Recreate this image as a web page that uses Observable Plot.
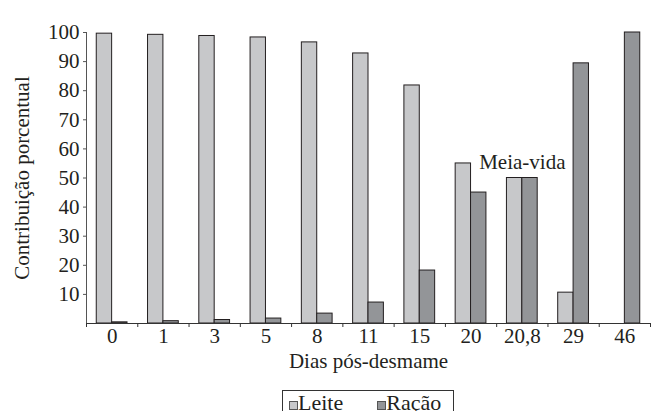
<!DOCTYPE html>
<html>
<head>
<meta charset="utf-8">
<script src="https://cdn.jsdelivr.net/npm/d3@7"></script>
<script src="https://cdn.jsdelivr.net/npm/@observablehq/plot@0.6"></script>
<style>
  body { margin: 0; background: #fff; font-family: "Liberation Serif", "Times New Roman", serif; color: #231f20; }
  #chart svg { display: block; }
  #legend { margin-left: 282px; width: 172px; height: 40px; border: 1px solid #333; box-sizing: border-box;
            font-size: 22px; line-height: 22px; padding-top: 1px; white-space: nowrap; }
  .item { display: inline-block; }
  .sw { display: inline-block; width: 7px; height: 7px; border: 1px solid #555; margin-right: 0px; vertical-align: 0px; }
</style>
</head>
<body>
<div id="chart"></div>
<div id="legend"></div>
<script>
const dias = ["0", "1", "3", "5", "8", "11", "15", "20", "20,8", "29", "46"];
const leite = [99.6, 99.2, 98.8, 98.3, 96.6, 92.8, 81.8, 55, 50, 10.6, 0];
const racao = [0.4, 0.8, 1.2, 1.7, 3.4, 7.2, 18.2, 45, 50, 89.4, 100];
const series = ["Leite", "Ração"];
const colors = ["#c7c8ca", "#939598"];
const yTicks = [10, 20, 30, 40, 50, 60, 70, 80, 90, 100];
const notas = [{dia: "20,8", texto: "Meia-vida"}];

const rows = dias.flatMap((d, i) => [
  {i, dia: d, serie: "Leite", v: leite[i]},
  {i, dia: d, serie: "Ração", v: racao[i]}
]).filter(d => d.v > 0);

const notaRows = notas.map(n => ({x: dias.indexOf(n.dia) + 0.5, y: leite[dias.indexOf(n.dia)], texto: n.texto}));

const chart = Plot.plot({
  width: 653,
  height: 390,
  marginTop: 32,
  marginBottom: 67,
  marginLeft: 86,
  marginRight: 3,
  style: {fontFamily: "'Liberation Serif', 'Times New Roman', serif", fontSize: "21px", color: "#231f20", background: "#fff"},
  x: {domain: [0, dias.length]},
  y: {domain: [0, 100]},
  color: {domain: series, range: colors},
  marks: [
    Plot.rectY(rows, {
      x1: d => d.i + (d.serie === "Leite" ? 0.2 : 0.5),
      x2: d => d.i + (d.serie === "Leite" ? 0.5 : 0.8),
      y: "v",
      fill: "serie",
      stroke: "#231f20",
      strokeWidth: 1
    }),
    Plot.ruleX([0], {y1: 0, y2: 100, stroke: "#555", strokeWidth: 1}),
    Plot.ruleY([0], {x1: 0, x2: dias.length, stroke: "#333", strokeWidth: 1}),
    Plot.axisY({ticks: yTicks, tickSize: 3, tickPadding: 4, label: "Contribuição porcentual",
                labelAnchor: "center", labelArrow: "none", labelOffset: 72, stroke: "#555"}),
    Plot.axisX({ticks: d3.range(0, dias.length + 1), tickFormat: () => "", tickSize: 4, label: null, stroke: "#333"}),
    Plot.axisX({ticks: dias.map((d, i) => i + 0.5), tickFormat: t => dias[Math.floor(t)], tickSize: 0, tickPadding: 5,
                label: "Dias pós-desmame", labelAnchor: "center", labelArrow: "none", labelOffset: 44}),
    Plot.text(notaRows, {x: "x", y: "y", text: "texto", lineAnchor: "bottom", dy: -9, fontSize: 21})
  ]
});
document.getElementById("chart").appendChild(chart);

const legend = document.getElementById("legend");
series.forEach((s, k) => {
  const item = document.createElement("span");
  item.className = "item";
  item.style.marginLeft = k === 0 ? "6px" : "34px";
  const sw = document.createElement("span");
  sw.className = "sw";
  sw.style.background = colors[k];
  item.appendChild(sw);
  item.appendChild(document.createTextNode(s));
  legend.appendChild(item);
});
</script>
</body>
</html>
